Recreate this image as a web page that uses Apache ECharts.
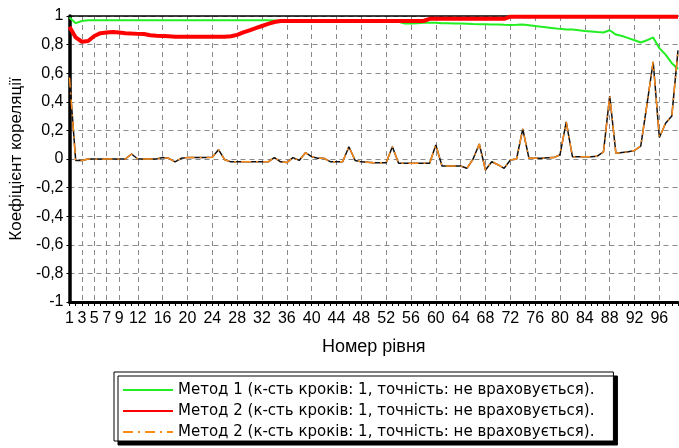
<!DOCTYPE html>
<html>
<head>
<meta charset="utf-8">
<script src="https://cdn.jsdelivr.net/npm/echarts@6/dist/echarts.min.js"></script>
<style>
  html, body { margin: 0; padding: 0; background: #fff; }
  #chart { width: 679px; height: 448px; }
</style>
</head>
<body>
<div id="chart"></div>
<script>
// номер рівня
const levels = [
  '1', '2', '3', '4', '5', '6', '7', '8', '9', '10',
  '11', '12', '13', '14', '15', '16', '17', '18', '19', '20',
  '21', '22', '23', '24', '25', '26', '27', '28', '29', '30',
  '31', '32', '33', '34', '35', '36', '37', '38', '39', '40',
  '41', '42', '43', '44', '45', '46', '47', '48', '49', '50',
  '51', '52', '53', '54', '55', '56', '57', '58', '59', '60',
  '61', '62', '63', '64', '65', '66', '67', '68', '69', '70',
  '71', '72', '73', '74', '75', '76', '77', '78', '79', '80',
  '81', '82', '83', '84', '85', '86', '87', '88', '89', '90',
  '91', '92', '93', '94', '95', '96', '97', '98', '99'
];
const xTickLabels = [1, 3, 5, 7, 9, 12, 16, 20, 24, 28, 32, 36, 40, 44, 48, 52, 56, 60, 64, 68, 72, 76, 80, 84, 88, 92, 96];

const legendNames = [
  'Метод 1 (к-сть кроків: 1, точність: не враховується).',
  'Метод 2 (к-сть кроків: 1, точність: не враховується).',
  'Метод 2 (к-сть кроків: 1, точність: не враховується).'
];

// Метод 1
const method1 = [
  0.99, 0.95, 0.965, 0.97, 0.97, 0.97, 0.97, 0.97, 0.97, 0.97,
  0.97, 0.97, 0.97, 0.97, 0.97, 0.97, 0.97, 0.97, 0.97, 0.97,
  0.97, 0.97, 0.97, 0.97, 0.97, 0.97, 0.97, 0.97, 0.97, 0.97,
  0.97, 0.97, 0.97, 0.968, 0.966, 0.965, 0.965, 0.965, 0.965, 0.965,
  0.965, 0.965, 0.964, 0.964, 0.964, 0.963, 0.963, 0.963, 0.962, 0.962,
  0.962, 0.961, 0.961, 0.96, 0.948, 0.947, 0.95, 0.952, 0.953, 0.952,
  0.95, 0.949, 0.948, 0.947, 0.946, 0.944, 0.943, 0.942, 0.941, 0.94,
  0.938, 0.937, 0.938, 0.94, 0.936, 0.93, 0.925, 0.92, 0.915, 0.91,
  0.906, 0.905, 0.9, 0.895, 0.892, 0.888, 0.885, 0.9, 0.87, 0.86,
  0.845, 0.83, 0.815, 0.83, 0.85, 0.775, 0.73, 0.67, 0.63
];

// Метод 2
const method2 = [
  0.925, 0.85, 0.82, 0.825, 0.86, 0.88, 0.885, 0.888, 0.885, 0.88,
  0.877, 0.875, 0.874, 0.865, 0.862, 0.86, 0.858, 0.855, 0.855, 0.855,
  0.855, 0.855, 0.855, 0.855, 0.855, 0.855, 0.858, 0.868, 0.885, 0.9,
  0.915, 0.93, 0.945, 0.958, 0.965, 0.965, 0.965, 0.965, 0.965, 0.965,
  0.965, 0.965, 0.965, 0.965, 0.965, 0.965, 0.965, 0.965, 0.965, 0.965,
  0.965, 0.965, 0.965, 0.965, 0.965, 0.965, 0.965, 0.965, 0.98, 0.98,
  0.98, 0.98, 0.98, 0.98, 0.98, 0.98, 0.98, 0.98, 0.98, 0.98,
  0.98, 0.995, 0.995, 0.995, 0.995, 0.995, 0.995, 0.995, 0.995, 0.995,
  0.995, 0.995, 0.995, 0.995, 0.995, 0.995, 0.995, 0.995, 0.995, 0.995,
  0.995, 0.995, 0.995, 0.995, 0.995, 0.995, 0.995, 0.995, 0.995
];

// Метод 2, друга крива
const method2b = [
  0.57, -0.01, -0.01, 0, 0, 0, 0, 0, 0, 0,
  0.035, 0, 0, 0, 0, 0.01, 0.005, -0.02, 0.005, 0.01,
  0.01, 0.01, 0.01, 0.012, 0.065, -0.005, -0.02, -0.02, -0.02, -0.02,
  -0.02, -0.02, -0.02, 0.01, -0.02, -0.025, 0.01, -0.01, 0.044, 0.016,
  0.005, 0.005, -0.019, -0.019, -0.019, 0.086, -0.01, -0.02, -0.022, -0.026,
  -0.026, -0.026, 0.086, -0.03, -0.03, -0.03, -0.03, -0.03, -0.03, 0.098,
  -0.049, -0.049, -0.049, -0.049, -0.065, 0, 0.105, -0.077, -0.019, -0.04,
  -0.065, -0.007, 0, 0.21, 0.005, 0.005, 0.005, 0.008, 0.01, 0.03,
  0.26, 0.016, 0.016, 0.016, 0.016, 0.02, 0.05, 0.44, 0.04, 0.045,
  0.05, 0.06, 0.09, 0.38, 0.68, 0.15, 0.25, 0.3, 0.76
];

const FONT = 'Liberation Sans, Arial, sans-serif';
const dashGrid = { color: '#8a8a8a', width: 1, type: [5, 4] };
const showTick = (idx, val) => xTickLabels.includes(Number(val));

const chart = echarts.init(document.getElementById('chart'));
chart.setOption({
  animation: false,
  backgroundColor: '#fff',
  grid: { left: 69, right: 1, top: 16, bottom: 146 },
  legend: {
    orient: 'vertical',
    left: 114,
    top: 372,
    data: ['m1', 'm2', 'm2b'],
    formatter: name => legendNames[['m1', 'm2', 'm2b'].indexOf(name)],
    itemWidth: 50,
    itemHeight: 12,
    itemGap: 3,
    padding: [9, 19, 0, 8],
    backgroundColor: '#fff',
    borderColor: '#000',
    borderWidth: 1,
    shadowColor: '#000',
    shadowOffsetX: 4,
    shadowOffsetY: 4,
    shadowBlur: 0,
    selectedMode: false,
    itemStyle: { opacity: 0 },
    textStyle: { fontFamily: 'DejaVu Sans, sans-serif', fontSize: 15, lineHeight: 18, color: '#000' }
  },
  xAxis: [{
    type: 'category',
    data: levels,
    boundaryGap: false,
    name: 'Номер рівня',
    nameLocation: 'middle',
    nameGap: 36,
    nameTextStyle: { fontFamily: FONT, fontSize: 18, color: '#000' },
    axisLine: { onZero: false, lineStyle: { color: '#000', width: 3 } },
    axisTick: { interval: 0, length: 4, lineStyle: { color: '#000', width: 1 } },
    axisLabel: { interval: showTick, margin: 9, fontFamily: FONT, fontSize: 16, color: '#000' },
    splitLine: { show: true, interval: showTick, lineStyle: dashGrid }
  }, {
    type: 'category',
    data: levels,
    boundaryGap: false,
    position: 'top',
    axisLine: { onZero: false, lineStyle: { color: '#000', width: 1.5 } },
    axisTick: { show: false },
    axisLabel: { show: false },
    splitLine: { show: false }
  }],
  yAxis: {
    type: 'value',
    min: -1,
    max: 1,
    interval: 0.2,
    name: 'Коефіцієнт кореляції',
    nameLocation: 'middle',
    nameGap: 42,
    nameTextStyle: { fontFamily: FONT, fontSize: 17, color: '#000' },
    axisLine: { show: true, lineStyle: { color: '#000', width: 3.5 } },
    axisTick: { show: true, length: 3, lineStyle: { color: '#000' } },
    axisLabel: {
      margin: 6,
      fontFamily: FONT,
      fontSize: 16,
      color: '#000',
      formatter: v => String(Math.round(v * 10) / 10).replace('.', ',')
    },
    splitLine: { show: true, lineStyle: dashGrid }
  },
  series: [{
    name: 'm1',
    type: 'line',
    data: method1,
    symbol: 'none',
    z: 3,
    lineStyle: { color: '#22ee22', width: 2 },
    itemStyle: { color: '#22ee22' }
  }, {
    name: 'm2',
    type: 'line',
    data: method2,
    symbol: 'none',
    z: 4,
    lineStyle: { color: '#ff0000', width: 4 },
    itemStyle: { color: '#ff0000' }
  }, {
    name: 'm2black',
    type: 'line',
    data: method2b,
    symbol: 'none',
    z: 5,
    lineStyle: { color: '#111', width: 1.5 },
    itemStyle: { color: '#111' }
  }, {
    name: 'm2b',
    type: 'line',
    data: method2b,
    symbol: 'none',
    z: 6,
    lineStyle: { color: '#ff8c1a', width: 1.5, type: [10, 5, 2, 5] },
    itemStyle: { color: '#ff8c1a' }
  }]
});
</script>
</body>
</html>
